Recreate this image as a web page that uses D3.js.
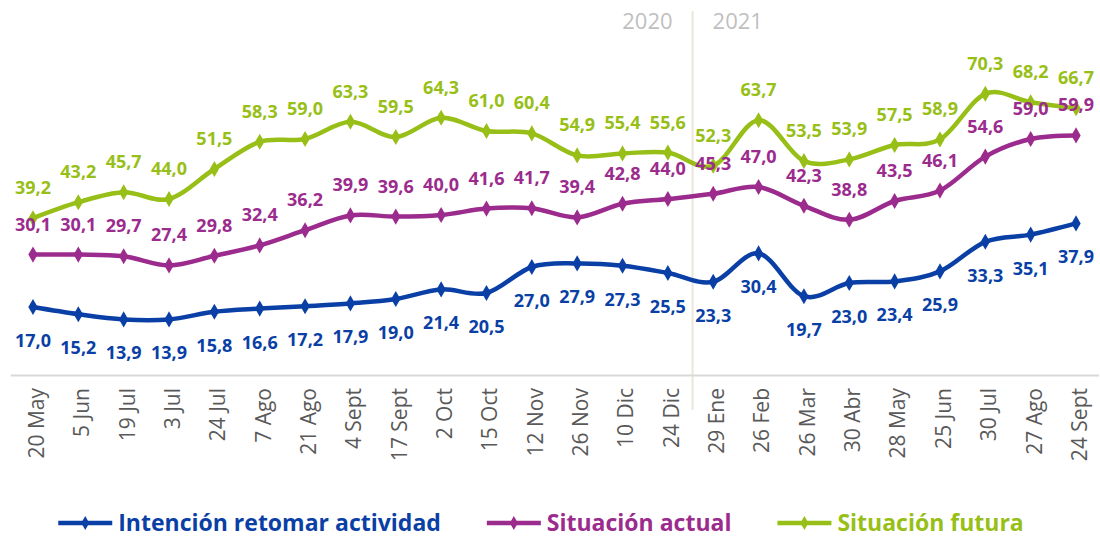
<!DOCTYPE html>
<html>
<head>
<meta charset="utf-8">
<script src="https://cdn.jsdelivr.net/npm/d3@7"></script>
<style>
  html, body { margin: 0; padding: 0; background: #ffffff; }
  svg { display: block; }
</style>
</head>
<body>
<svg id="chart" width="1100" height="538"></svg>
<script>
// Survey waves (May 2020 – Sept 2021)
const categories = ["20 May", "5 Jun", "19 Jul", "3 Jul", "24 Jul", "7 Ago", "21 Ago", "4 Sept",
  "17 Sept", "2 Oct", "15 Oct", "12 Nov", "26 Nov", "10 Dic", "24 Dic", "29 Ene", "26 Feb",
  "26 Mar", "30 Abr", "28 May", "25 Jun", "30 Jul", "27 Ago", "24 Sept"];

const intencion = [17.0, 15.2, 13.9, 13.9, 15.8, 16.6, 17.2, 17.9, 19.0, 21.4, 20.5, 27.0,
  27.9, 27.3, 25.5, 23.3, 30.4, 19.7, 23.0, 23.4, 25.9, 33.3, 35.1, 37.9];
const actual = [30.1, 30.1, 29.7, 27.4, 29.8, 32.4, 36.2, 39.9, 39.6, 40.0, 41.6, 41.7,
  39.4, 42.8, 44.0, 45.3, 47.0, 42.3, 38.8, 43.5, 46.1, 54.6, 59.0, 59.9];
const futura = [39.2, 43.2, 45.7, 44.0, 51.5, 58.3, 59.0, 63.3, 59.5, 64.3, 61.0, 60.4,
  54.9, 55.4, 55.6, 52.3, 63.7, 53.5, 53.9, 57.5, 58.9, 70.3, 68.2, 66.7];

const seriesNames = ["Intención retomar actividad", "Situación actual", "Situación futura"];
const years = ["2020", "2021"];
const yearBreakAfter = "24 Dic";

const seriesList = [
  { name: seriesNames[0], values: intencion, color: "#0a3fa6", below: true },
  { name: seriesNames[1], values: actual, color: "#9b2b8d", below: false },
  { name: seriesNames[2], values: futura, color: "#97bf17", below: false }
];

const svg = d3.select("#chart");
const FONT = "'Open Sans', 'Noto Sans', sans-serif";

const x = d3.scalePoint().domain(categories).range([10.3, 1098.7]).padding(0.5);
const y = d3.scaleLinear().domain([0, 90]).range([375, 15]);
const fmt = v => d3.format(".1f")(v).replace(".", ",");

// Year divider between December 2020 and January 2021
const breakIdx = categories.indexOf(yearBreakAfter);
const divX = (x(categories[breakIdx]) + x(categories[breakIdx + 1])) / 2 + 2;
svg.append("line")
  .attr("x1", divX).attr("x2", divX).attr("y1", 11).attr("y2", 410)
  .attr("stroke", "#ebe6da").attr("stroke-width", 2);
svg.append("text").text(years[0])
  .attr("x", divX - 20).attr("y", 29).attr("text-anchor", "end")
  .attr("font-family", FONT).attr("font-size", 22).attr("fill", "#bfbfbf");
svg.append("text").text(years[1])
  .attr("x", divX + 20).attr("y", 29).attr("text-anchor", "start")
  .attr("font-family", FONT).attr("font-size", 22).attr("fill", "#bfbfbf");

// Category axis
const axis = svg.append("g")
  .attr("transform", "translate(0,375)")
  .call(d3.axisBottom(x).tickSize(0).tickSizeOuter(0));
axis.select(".domain").attr("stroke", "#d9d9d9").attr("stroke-width", 2);
axis.selectAll(".tick text")
  .attr("transform", "rotate(-90)")
  .attr("text-anchor", "end")
  .attr("x", -13).attr("y", 3).attr("dy", "0.35em")
  .attr("font-family", FONT).attr("font-size", 21).attr("fill", "#595959");

// Smoothed lines with diamond markers
const line = d3.line()
  .x((d, i) => x(categories[i]))
  .y(d => y(d))
  .curve(d3.curveCatmullRom.alpha(0));
const diamond = d3.symbol().type(d3.symbolDiamond);

seriesList.forEach(s => {
  const g = svg.append("g");
  g.append("path")
    .datum(s.values)
    .attr("d", line)
    .attr("fill", "none")
    .attr("stroke", s.color)
    .attr("stroke-width", 4.5)
    .attr("stroke-linejoin", "round");
  g.selectAll("path.marker")
    .data(s.values)
    .join("path")
    .attr("class", "marker")
    .attr("d", diamond.size(75))
    .attr("transform", (d, i) => `translate(${x(categories[i])},${y(d)})`)
    .attr("fill", s.color);
});

// Value labels (drawn after all lines so they sit on top)
seriesList.forEach(s => {
  svg.append("g").selectAll("text")
    .data(s.values)
    .join("text")
    .attr("x", (d, i) => x(categories[i]))
    .attr("y", d => s.below ? y(d) + 40 : y(d) - 24)
    .attr("text-anchor", "middle")
    .attr("font-family", FONT).attr("font-weight", 700).attr("font-size", 18)
    .attr("fill", s.color)
    .text(d => fmt(d));
});

// Legend, centred under the plot
const legend = svg.append("g");
let cursor = 0;
seriesList.forEach(s => {
  const g = legend.append("g");
  g.append("line").attr("x1", 0).attr("x2", 54).attr("y1", 0).attr("y2", 0)
    .attr("stroke", s.color).attr("stroke-width", 4.5);
  g.append("path").attr("d", diamond.size(55)).attr("transform", "translate(27,0)")
    .attr("fill", s.color);
  const t = g.append("text").attr("x", 60).attr("y", 0).attr("dy", "0.35em")
    .attr("font-family", FONT).attr("font-weight", 700).attr("font-size", 23)
    .attr("fill", s.color).text(s.name);
  const w = 60 + t.node().getComputedTextLength();
  g.attr("transform", `translate(${cursor},0)`);
  cursor += w + 46;
});
const totalW = cursor - 46;
legend.attr("transform", `translate(${541 - totalW / 2},523)`);
</script>
</body>
</html>
